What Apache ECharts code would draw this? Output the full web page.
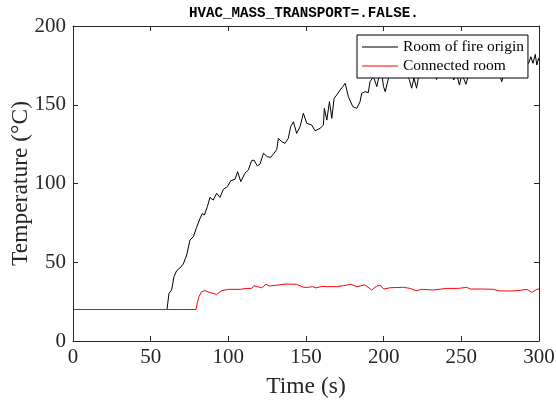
<!DOCTYPE html>
<html>
<head>
<meta charset="utf-8">
<script src="https://cdn.jsdelivr.net/npm/echarts@6/dist/echarts.min.js"></script>
<style>
  html, body { margin: 0; padding: 0; background: #fff; }
  #chart { width: 556px; height: 403px; }
</style>
</head>
<body>
<div id="chart"></div>
<script>
// Gas temperature in the room of fire origin and in the connected room
const chartTitle = 'HVAC_MASS_TRANSPORT=.FALSE.';
const seriesNames = ['Room of fire origin', 'Connected room'];
const xTicks = [0, 50, 100, 150, 200, 250, 300];
const yTicks = [0, 50, 100, 150, 200];

const fireTime = [
  0, 60.5, 61.8, 63.5, 65, 66.7, 69, 71, 73.2, 75.3, 77.5, 79.6, 81.8, 83.3, 84.6,
  86.5, 88.2, 90.3, 92.5, 94.6, 96.8, 99.4, 101.6, 104.3, 106, 108, 110.7, 112.9,
  115, 116.5, 118.7, 120.4, 122.6, 125.1, 127.3, 129.4, 131.2, 132.2, 134.3, 136.5,
  138.6, 140.1, 141.9, 144, 146.2, 148.3, 150.5, 153.7, 155.8, 159, 161.2, 161.8,
  163.4, 165.1, 166.6, 168.1, 169.8, 172, 173.7, 175.2, 177.3, 180.1, 182.7, 184.8,
  185.9, 188, 190.1, 191.2, 193.4, 195.6, 196.7, 198.8, 199.9, 201, 203.1, 205, 207,
  209, 211, 213, 215, 216.5, 218, 219.5, 221.2, 222.5, 225, 228, 231, 233, 234,
  235.5, 238, 241, 244, 245, 247, 248.8, 250, 251.4, 253, 254.6, 257, 260, 263, 266,
  269, 272, 275, 276, 277.5, 280, 283, 286, 289, 291, 293.3, 294.8, 296.1, 297.6,
  298.6, 299.7, 300
];
const fireTemp = [
  20, 20, 30.3, 32.4, 40.8, 44.6, 46.5, 48.9, 54.6, 64.1, 66.2, 72.2, 77.9, 81, 80,
  85.3, 91.2, 89.5, 93.8, 91.2, 96.3, 98, 101.8, 102.7, 107.5, 101.2, 106.5, 108.6,
  114.5, 114.9, 111.1, 112.4, 119.2, 117, 116.6, 119.2, 121.7, 128.7, 126.6, 125.5,
  128.7, 136.1, 139.2, 131.8, 136.1, 144.6, 138.2, 137.1, 133.5, 135, 137.1, 147.7,
  140.3, 152, 141.4, 154.1, 156.2, 159.4, 161.5, 163.6, 155.1, 148.8, 147.7, 152,
  157.3, 158.3, 157.7, 164.6, 167.8, 161.5, 166.8, 170, 161.5, 158.3, 166.8, 172, 170,
  174, 169, 173, 169, 166, 160.5, 167, 160.5, 168, 172, 170, 174, 170, 166,
  171, 175, 172, 170, 165.7, 169, 162.5, 168, 167, 163, 169, 173, 170, 174, 171,
  175, 172, 168, 164.6, 170, 174, 171, 175, 172, 175, 176.3, 180.5, 176.3, 182,
  175.2, 179.5, 178
];

const roomTime = [
  0, 79.2, 80, 81, 82.8, 85, 88.2, 92.5, 95.7, 100, 107.5, 111.8, 115, 116.5, 118.7,
  121.5, 124.3, 126.4, 131.2, 137.6, 144, 148.3, 151.5, 154.3, 156.5, 160.1, 163.4,
  169.8, 174, 178.8, 182.7, 188, 192.3, 195.6, 197.6, 200.2, 204.1, 212.6, 217,
  220.9, 224.5, 232, 240.6, 248.1, 253.5, 255.7, 264.3, 270.7, 274, 279.3, 285.8,
  292.2, 295.4, 298.6, 300
];
const roomTemp = [
  20, 20, 24, 28, 31.3, 32, 30.7, 29.6, 32, 32.8, 32.8, 33.4, 33.4, 35.1, 34.5,
  33.8, 36, 34.9, 35.4, 36.2, 36, 34.1, 34.1, 34.5, 33.7, 34.7, 34.5,
  34.5, 35.1, 36, 34.5, 35.6, 32.4, 34.9, 35.4, 33, 33.8, 34.1, 33.4,
  31.9, 32.8, 32.4, 33.4, 33.4, 34.1, 33, 33, 32.8, 31.9, 31.7, 31.9,
  32.8, 30.9, 32.8, 33
];

const pairs = (xs, ys) => xs.map((x, i) => [x, ys[i]]);

const serif = 'Liberation Serif, Times New Roman, serif';
const axisColor = '#262626';

function baseAxis(ticks, extra) {
  return Object.assign({
    type: 'value',
    min: ticks[0],
    max: ticks[ticks.length - 1],
    interval: ticks[1] - ticks[0],
    splitLine: { show: false },
    nameMoveOverlap: false,
    axisLine: { show: true, onZero: false, lineStyle: { color: axisColor, width: 1 } },
    axisTick: { show: true, inside: true, length: 5, lineStyle: { color: axisColor, width: 1 } }
  }, extra);
}

const chart = echarts.init(document.getElementById('chart'), null, { renderer: 'canvas' });
chart.setOption({
  animation: false,
  backgroundColor: '#fff',
  title: {
    text: chartTitle,
    left: 189,
    top: 6,
    padding: 0,
    textStyle: {
      fontFamily: 'Liberation Mono, Courier New, monospace',
      fontWeight: 'bold',
      fontSize: 14.2,
      color: '#000'
    }
  },
  grid: { left: 73, right: 17, top: 26, bottom: 62, containLabel: false, outerBoundsMode: 'none' },
  xAxis: [
    baseAxis(xTicks, {
      position: 'bottom',
      name: 'Time (s)',
      nameLocation: 'middle',
      nameGap: 34,
      nameTextStyle: { fontFamily: serif, fontSize: 23.5, color: axisColor },
      axisLabel: { show: true, margin: 6, fontFamily: serif, fontSize: 21, color: axisColor }
    }),
    baseAxis(xTicks, { position: 'top', axisLabel: { show: false } })
  ],
  yAxis: [
    baseAxis(yTicks, {
      position: 'left',
      name: 'Temperature (°C)',
      nameLocation: 'middle',
      nameGap: 40,
      nameTextStyle: { fontFamily: serif, fontSize: 23.5, color: axisColor },
      axisLabel: { show: true, margin: 7, fontFamily: serif, fontSize: 21, color: axisColor }
    }),
    baseAxis(yTicks, { position: 'right', axisLabel: { show: false } })
  ],
  legend: {
    orient: 'vertical',
    left: 357,
    top: 35,
    padding: [3, 4, 3, 5],
    itemGap: 1,
    itemWidth: 36,
    itemHeight: 1,
    icon: 'rect',
    backgroundColor: '#fff',
    borderColor: '#000',
    borderWidth: 1,
    borderRadius: 0,
    textStyle: { fontFamily: serif, fontSize: 15.5, color: '#000', lineHeight: 18 },
    data: seriesNames
  },
  series: [
    {
      name: seriesNames[0],
      type: 'line',
      data: pairs(fireTime, fireTemp),
      symbol: 'none',
      showSymbol: false,
      smooth: false,
      lineStyle: { color: '#000', width: 1 },
      itemStyle: { color: '#000' },
      z: 2
    },
    {
      name: seriesNames[1],
      type: 'line',
      data: pairs(roomTime, roomTemp),
      symbol: 'none',
      showSymbol: false,
      smooth: false,
      lineStyle: { color: '#ff0000', width: 1 },
      itemStyle: { color: '#ff0000' },
      z: 3
    }
  ]
});
</script>
</body>
</html>
